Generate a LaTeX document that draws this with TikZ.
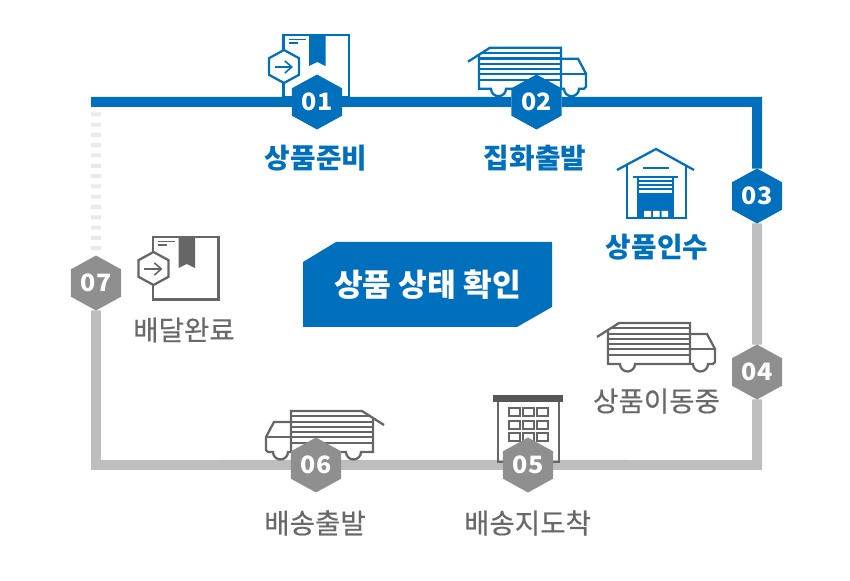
\documentclass[tikz,border=0pt]{standalone}
\usepackage{fontspec}
\newfontfamily\krfont{Noto Sans CJK KR}
\newfontfamily\krsoft[FakeBold=0.5]{Noto Sans CJK KR}
\usepackage{xcolor}
\usetikzlibrary{arrows.meta,backgrounds,shapes.geometric}
\definecolor{stepblue}{HTML}{0070BC}
\definecolor{stepgray}{HTML}{BDBEC0}
\definecolor{hexgray}{HTML}{8F8F8F}
\definecolor{icongray}{HTML}{666666}
\definecolor{labelgray}{HTML}{696969}
\definecolor{dotgray}{HTML}{E9E9E9}
\tikzset{
    parcel/.pic={
        \draw[icon,#1,fill=white] (0,0) rectangle (65.5,62.5);
        \fill[#1] (25.5,0) -- (42,0) -- (42,31) -- (33.8,27) -- (25.5,31) -- cycle;
        \draw[#1,line width=0.8pt] (5,4.5) -- (22,4.5) (5,8) -- (14,8);
        \draw[icon,#1,fill=white] (0.5,15) -- (15.5,23.2) -- (15.5,39.8) -- (0.5,48)
            -- (-14.5,39.8) -- (-14.5,23.2) -- cycle;
        \draw[#1,line width=0.9pt,-{Straight Barb[length=4pt,width=7pt]}] (-9,32) -- (9.5,32);
    },
    lorry/.pic={
        \draw[icon,#1] (-11,14) -- (11,0) -- (82,0) -- (82,41);
        \draw[icon,#1] (3,5) -- (82,5) (0,10.7) -- (82,10.7) (0,16) -- (82,16)
            (0,21) -- (82,21) (0,26) -- (107,26) (0,32) -- (82,32);
        \draw[icon,#1] (0,7) -- (0,41) -- (12,41) arc[start angle=180,end angle=360,radius=0.15cm]
            -- (85,41) arc[start angle=180,end angle=360,radius=0.15cm] -- (105,41)
            -- (107,39) -- (107,26) -- (99,11) -- (82,11);
    },
}
\begin{document}
\begin{tikzpicture}[
    x=0.02cm,y=-0.02cm,
    font=\krfont,
    icon/.style={line width=1.3pt,line join=miter},
    hexa/.style={regular polygon,regular polygon sides=6,shape border rotate=30,
        minimum size=1.1cm,inner sep=0pt,outer sep=0pt,text=white,xscale=1.05,transform shape,
        font=\krfont\bfseries\fontsize{13.6}{16}\selectfont},
    hexblue/.style={hexa,fill=stepblue},
    hexgrey/.style={hexa,fill=hexgray},
    track/.style={line width=0.2cm,line join=miter},
    labelblue/.style={text=stepblue,inner sep=0pt,font=\krfont\bfseries\fontsize{15.8}{18}\selectfont},
    labelgrey/.style={text=labelgray,inner sep=0pt,font=\krsoft\fontsize{15.7}{18}\selectfont},
]
    \path[use as bounding box] (0,0) rectangle (850,581);

    \pic at (283.5,35) {parcel=stepblue};
    \pic at (479,47.7) {lorry=stepblue};
    \pic at (608,323) {lorry=icongray};
    \pic[xscale=-1] at (373,411) {lorry=icongray};
    \pic at (153,237) {parcel=icongray};

    \draw[icon,stepblue] (617,170) -- (656,149) -- (694,170);
    \draw[icon,stepblue] (627,165) -- (627,218) -- (686,218) -- (686,165);
    \draw[icon,stepblue] (643,168) -- (669,168);
    \draw[stepblue,line width=1.6pt] (633,177) -- (678,177);
    \draw[icon,stepblue] (638,177) -- (638,218) (673,177) -- (673,218);
    \draw[stepblue,line width=1pt] (638,181) -- (673,181) (638,185) -- (673,185) (638,189) -- (673,189);
    \fill[stepblue] (638,193.5) rectangle (673,218);
    \fill[white] (644,211) rectangle (651,217) (653,211) rectangle (659.5,217) (661.5,211) rectangle (668,217);

    \fill[icongray!85!black] (493,395) rectangle (563,402);
    \draw[icon,icongray] (498,402) -- (498,462) -- (559,462) -- (559,402);
    \foreach \wx in {509,523,537} {
        \foreach \wy in {408,421,433} {
            \draw[icongray,line width=1.1pt] (\wx,\wy) rectangle ++(11,8);
        }
    }

    \node[hexblue] (n01) at (317,102) {01};
    \node[hexblue] (n02) at (536.5,102) {02};
    \node[hexblue] (n03) at (757,196) {03};
    \node[hexgrey] (n04) at (757,372) {04};
    \node[hexgrey] (n05) at (528,465) {05};
    \node[hexgrey] (n06) at (316,465) {06};
    \node[hexgrey] (n07) at (96,283) {07};

    \coordinate (topleft) at (91,102);
    \coordinate (topright) at (757,102);
    \coordinate (botright) at (757,465);
    \coordinate (botleft) at (96,465);
    \coordinate (dotstart) at (96,102);

    \begin{scope}[on background layer]
        \draw[track,stepgray] (n03) -- (n04) -- (botright) -- (n05) -- (n06) -- (botleft) -- (n07);
        \draw[track,dotgray,dash pattern=on 0.08cm off 0.126cm] (dotstart) -- (n07);
        \draw[track,stepblue] (topleft) -- (n01) -- (n02) -- (topright) -- (n03);
    \end{scope}

    \node[labelblue] (l01) at (316,158) {상품준비};
    \node[labelblue] (l02) at (535,158) {집화출발};
    \node[labelblue] (l03) at (657,247) {상품인수};
    \node[labelgrey] (l04) at (656.5,401) {상품이동중};
    \node[labelgrey] (l05) at (527.5,523) {배송지도착};
    \node[labelgrey] (l06) at (315,523) {배송출발};
    \node[labelgrey] (l07) at (184,330) {배달완료};

    \fill[stepblue] (303,262) -- (336,242) -- (552,242) -- (552,307) -- (517,327) -- (303,327) -- cycle;
    \node[text=white,inner sep=0pt,font=\krfont\bfseries\fontsize{17.8}{20}\selectfont] (check) at (427.5,284.5) {상품 상태 확인};
\end{tikzpicture}
\end{document}
